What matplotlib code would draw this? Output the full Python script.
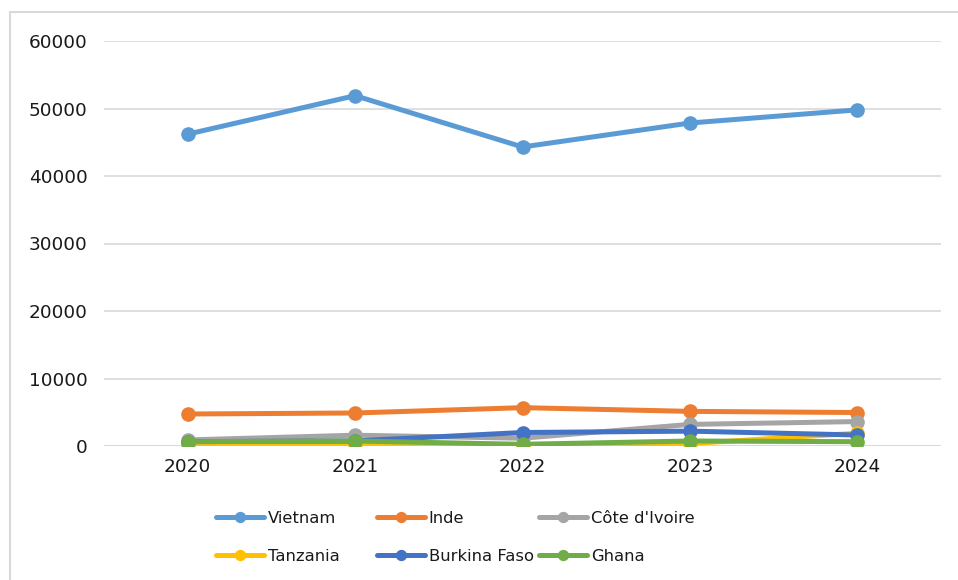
import matplotlib
matplotlib.use('Agg')
import matplotlib.pyplot as plt
from matplotlib.patches import Rectangle

# --- DATA ---
years = ['2020', '2021', '2022', '2023', '2024']
vietnam = [46200, 51900, 44300, 47850, 49800]
inde = [4740, 4890, 5680, 5130, 4960]
cote_ivoire = [900, 1600, 1150, 3200, 3620]
tanzania = [150, 150, 150, 350, 1900]
burkina_faso = [650, 750, 2000, 2200, 1630]
ghana = [640, 740, 250, 740, 640]

series = [
    ('Vietnam', vietnam, '#5B9BD5'),
    ('Inde', inde, '#ED7D31'),
    ("Côte d'Ivoire", cote_ivoire, '#A5A5A5'),
    ('Tanzania', tanzania, '#FFC000'),
    ('Burkina Faso', burkina_faso, '#4472C4'),
    ('Ghana', ghana, '#70AD47'),
]

plt.rcParams['font.family'] = ['DejaVu Sans']

fig = plt.figure(figsize=(9.58, 5.80), dpi=100)
ax = fig.add_axes([104 / 958, 1 - 446 / 580, (941 - 104) / 958, (446 - 41) / 580])

x = list(range(len(years)))
handles = []
for name, vals, color in series:
    h, = ax.plot(x, vals, color=color, linewidth=3.6, marker='o', markersize=9.5,
                 label=name, solid_capstyle='round', zorder=3)
    handles.append(h)

ax.set_xlim(-0.5, len(years) - 0.5)
ax.set_ylim(0, 60000)
ax.set_yticks(range(0, 60001, 10000))
ax.set_xticks(x)
ax.set_xticklabels(years)
ax.tick_params(axis='both', length=0, labelsize=13.3, colors='#1a1a1a')
ax.tick_params(axis='y', pad=12)
ax.tick_params(axis='x', pad=9)
ax.grid(axis='y', color='#D9D9D9', linewidth=1.2)
ax.set_axisbelow(True)
for s in ax.spines.values():
    s.set_visible(False)
ax.axhline(0, color='#D9D9D9', linewidth=1.5, zorder=1)

# legend: 3 columns laid out row by row, equal column widths
col_x = [216, 377, 539]
for i, cx in enumerate(col_x):
    hs = [handles[i], handles[i + 3]]
    fig.legend(handles=hs, labels=[h.get_label() for h in hs],
               loc='upper left', bbox_to_anchor=(cx / 958, 1 - 511 / 580),
               frameon=False, fontsize=11.8, handlelength=2.9,
               handletextpad=0.25, labelspacing=1.4, markerscale=0.75,
               borderpad=0, borderaxespad=0, labelcolor='#1a1a1a')

# chart border (only left and top edges fall inside the image)
fig.patches.append(Rectangle((9.5 / 958, -0.1), 1.2, 1 - 11.5 / 580 + 0.1,
                             transform=fig.transFigure, fill=False,
                             edgecolor='#D9D9D9', linewidth=1.5))

fig.savefig('out.png', dpi=100)
